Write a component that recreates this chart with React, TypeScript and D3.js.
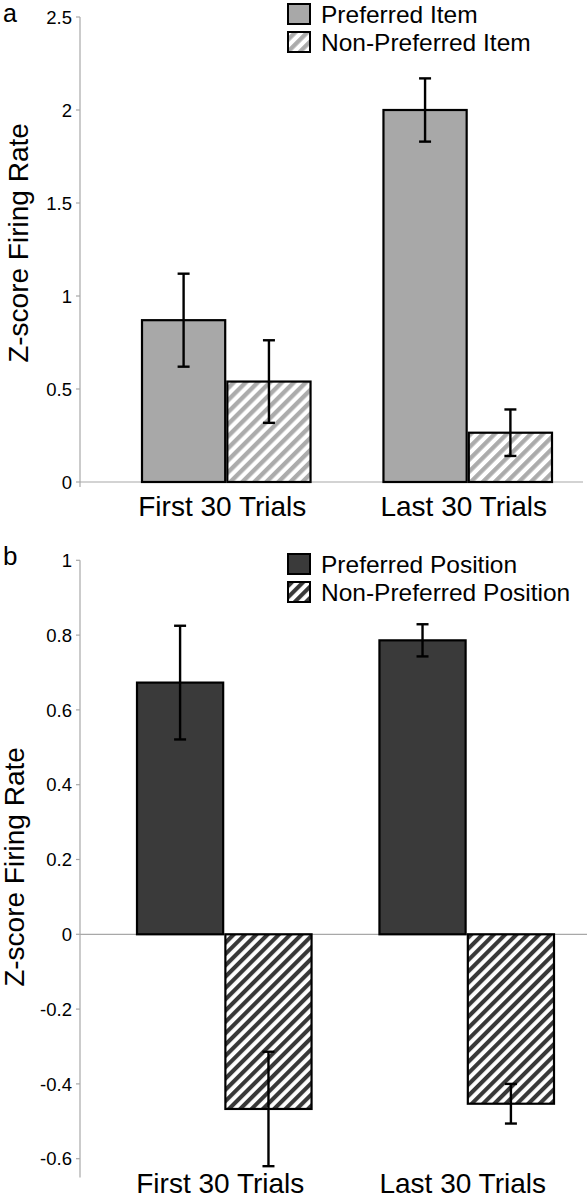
import React from "react";
import * as d3 from "d3";

// ---------- data ----------
const categories = ["First 30 Trials", "Last 30 Trials"];

const seriesA = ["Preferred Item", "Non-Preferred Item"];
const prefItemMeans = [0.87, 2.0];
const prefItemErr = [0.25, 0.17];
const nonPrefItemMeans = [0.54, 0.265];
const nonPrefItemErr = [0.222, 0.125];
const ticksA = [0, 0.5, 1, 1.5, 2, 2.5];
const tickLabelsA = ["0", "0.5", "1", "1.5", "2", "2.5"];

const seriesB = ["Preferred Position", "Non-Preferred Position"];
const prefPosMeans = [0.673, 0.786];
const prefPosErr = [0.152, 0.043];
const nonPrefPosMeans = [-0.467, -0.453];
const nonPrefPosErr = [0.153, 0.053];
const ticksB = [-0.6, -0.4, -0.2, 0, 0.2, 0.4, 0.6, 0.8, 1];
const tickLabelsB = ["-0.6", "-0.4", "-0.2", "0", "0.2", "0.4", "0.6", "0.8", "1"];

const FONT = "'Liberation Sans', Arial, Helvetica, sans-serif";

type PanelProps = {
  letter: string;
  letterY: number;
  letterSize: number;
  yScale: d3.ScaleLinear<number, number>;
  axisTop: number;
  axisBottom: number;
  zeroEnd: number;
  ticks: number[];
  tickLabels: string[];
  xRange: [number, number];
  paddingInner: number;
  series: string[];
  means: number[][];
  errs: number[][];
  solidFill: string;
  hatchId: string;
  ylabelX: number;
  ylabelY: number;
  xlabelY: number;
  legendY: number;
};

function Panel(p: PanelProps) {
  const axisX = 80;
  const x0 = d3.scaleBand<string>().domain(categories).range(p.xRange).paddingInner(p.paddingInner).paddingOuter(0);
  const x1 = d3.scaleBand<string>().domain(p.series).range([0, x0.bandwidth()]).paddingInner(0.025);
  const y = p.yScale;
  const fills = [p.solidFill, `url(#${p.hatchId})`];
  return (
    <g>
      <text x={3} y={p.letterY} fontFamily={FONT} fontSize={p.letterSize} fill="#000">{p.letter}</text>
      {/* y axis */}
      <line x1={axisX} x2={axisX} y1={p.axisTop} y2={p.axisBottom} stroke="#a8a8a8" strokeWidth={1.2} />
      {p.ticks.map((t, i) => (
        <g key={i}>
          <line x1={axisX - 4} x2={axisX} y1={y(t)} y2={y(t)} stroke="#a8a8a8" strokeWidth={1.2} />
          <text x={72} y={y(t)} dy="0.36em" textAnchor="end" fontFamily={FONT} fontSize={18.5} fill="#000">
            {p.tickLabels[i]}
          </text>
        </g>
      ))}
      {/* zero line */}
      <line x1={axisX} x2={p.zeroEnd} y1={y(0)} y2={y(0)} stroke="#a8a8a8" strokeWidth={1.2} />
      <text
        transform={`translate(${p.ylabelX},${p.ylabelY}) rotate(-90)`}
        textAnchor="middle"
        fontFamily={FONT}
        fontSize={28}
        fill="#000"
      >
        Z-score Firing Rate
      </text>
      {/* bars */}
      {categories.map((c, ci) => (
        <g key={c}>
          {p.series.map((s, si) => {
            const v = p.means[si][ci];
            const bx = (x0(c) as number) + (x1(s) as number);
            const bw = x1.bandwidth();
            return (
              <rect
                key={s}
                x={bx}
                y={Math.min(y(v), y(0))}
                width={bw}
                height={Math.abs(y(v) - y(0))}
                fill={fills[si]}
                stroke="#000"
                strokeWidth={2.2}
              />
            );
          })}
          {p.series.map((s, si) => {
            const v = p.means[si][ci];
            const e = p.errs[si][ci];
            const cx = (x0(c) as number) + (x1(s) as number) + x1.bandwidth() / 2;
            return (
              <g key={"e" + s} stroke="#000" strokeWidth={2.4}>
                <line x1={cx} x2={cx} y1={y(v + e)} y2={y(v - e)} />
                <line x1={cx - 6} x2={cx + 6} y1={y(v + e)} y2={y(v + e)} />
                <line x1={cx - 6} x2={cx + 6} y1={y(v - e)} y2={y(v - e)} />
              </g>
            );
          })}
          <text
            x={(x0(c) as number) + x0.bandwidth() / 2 - 4}
            y={p.xlabelY}
            textAnchor="middle"
            fontFamily={FONT}
            fontSize={28}
            fill="#000"
          >
            {c}
          </text>
        </g>
      ))}
      {/* legend */}
      {p.series.map((s, si) => (
        <g key={"l" + s}>
          <rect x={288} y={p.legendY + si * 28} width={22} height={20} fill={fills[si]} stroke="#000" strokeWidth={2} />
          <text x={321} y={p.legendY + si * 28 + 18.5} fontFamily={FONT} fontSize={24.5} fill="#000">
            {s}
          </text>
        </g>
      ))}
    </g>
  );
}

export default function App() {
  const yA = d3.scaleLinear().domain([0, 2.5]).range([482, 17]);
  const yB = d3.scaleLinear().domain([0, 1]).range([934.3, 560.3]);
  return (
    <svg
      width={587}
      height={1199}
      style={{ position: "absolute", left: 0, top: 0, background: "#fff" }}
    >
      <defs>
        <pattern id="hatchA" patternUnits="userSpaceOnUse" width={8.5} height={8.5} patternTransform="rotate(45)">
          <rect width={8.5} height={8.5} fill="#fff" />
          <line x1={2.2} x2={2.2} y1={0} y2={8.5} stroke="#ababab" strokeWidth={4.3} />
        </pattern>
        <pattern id="hatchB" patternUnits="userSpaceOnUse" width={8} height={8} patternTransform="rotate(45)">
          <rect width={8} height={8} fill="#fff" />
          <line x1={2} x2={2} y1={0} y2={8} stroke="#383838" strokeWidth={4.2} />
        </pattern>
      </defs>
      <rect width={587} height={1199} fill="#fff" />
      <Panel
        letter="a"
        letterY={22}
        letterSize={25}
        yScale={yA}
        axisTop={yA(2.5)}
        axisBottom={yA(0) + 5}
        zeroEnd={583}
        ticks={ticksA}
        tickLabels={tickLabelsA}
        xRange={[142, 552]}
        paddingInner={0.302}
        series={seriesA}
        means={[prefItemMeans, nonPrefItemMeans]}
        errs={[prefItemErr, nonPrefItemErr]}
        solidFill="#a8a8a8"
        hatchId="hatchA"
        ylabelX={28}
        ylabelY={243}
        xlabelY={516}
        legendY={4}
      />
      <Panel
        letter="b"
        letterY={565}
        letterSize={26}
        yScale={yB}
        axisTop={yB(1)}
        axisBottom={yB(-0.65)}
        zeroEnd={587}
        ticks={ticksB}
        tickLabels={tickLabelsB}
        xRange={[137, 554]}
        paddingInner={0.28}
        series={seriesB}
        means={[prefPosMeans, nonPrefPosMeans]}
        errs={[prefPosErr, nonPrefPosErr]}
        solidFill="#3a3a3a"
        hatchId="hatchB"
        ylabelX={24}
        ylabelY={867}
        xlabelY={1192.5}
        legendY={554}
      />
    </svg>
  );
}
